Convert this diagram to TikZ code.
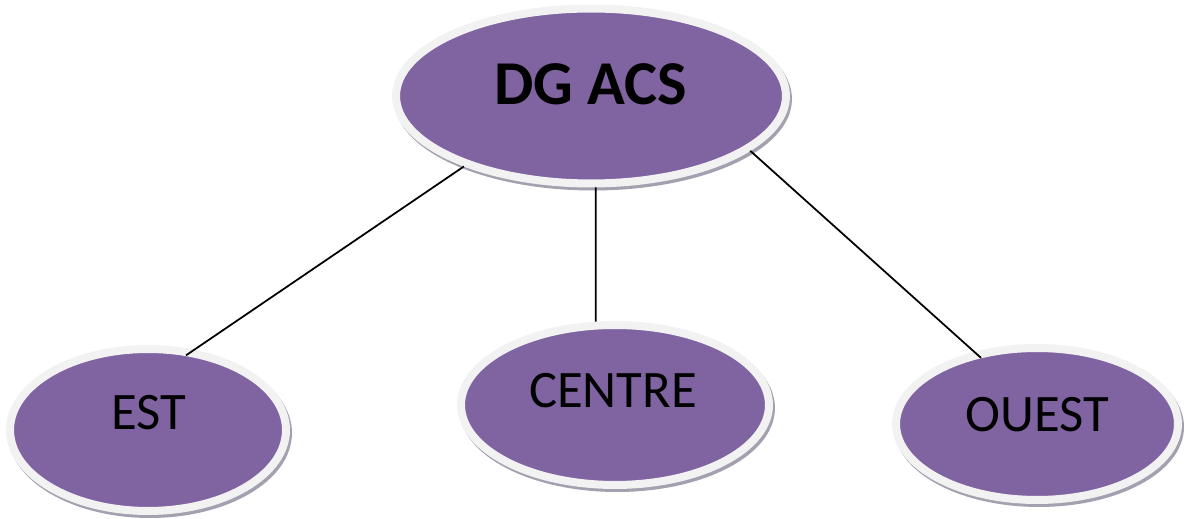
\documentclass[tikz,border=0pt]{standalone}
\usepackage{fontspec}
\setmainfont{Carlito}
\usetikzlibrary{shapes.geometric}
\definecolor{acspurple}{RGB}{128,100,162}
\definecolor{ringgray}{RGB}{242,242,242}
\definecolor{shadowgray}{RGB}{165,160,175}

\begin{document}
\begin{tikzpicture}[
        x=0.02cm, y=-0.02cm,
        % Purple ellipses with a pale rim and a soft grey shadow.
        bubble/.style={ellipse, draw=ringgray, fill=acspurple,
            line width=0.16cm, inner sep=0pt,
            preaction={draw=shadowgray, fill=shadowgray, line width=0.16cm,
                transform canvas={xshift=0.04cm, yshift=-0.06cm}}},
        tag/.style={text=black, font=\fontsize{30}{35}\selectfont},
        title/.style={text=black, font=\bfseries\fontsize{35.5}{42}\selectfont},
        link/.style={black, line width=1pt}
    ]
        \useasboundingbox (0,0) rectangle (1187,519);

        % Head office and the three regions
        \node[bubble, minimum width=7.8cm, minimum height=3.5cm,
            label={[title, yshift=0.24cm]center:DG ACS}] (dg) at (591,96) {};
        \node[bubble, minimum width=5.52cm, minimum height=3.24cm,
            label={[tag, xshift=0.02cm, yshift=0.34cm]center:EST}] (est) at (148,430) {};
        \node[bubble, minimum width=6.16cm, minimum height=3.2cm,
            label={[tag, xshift=-0.04cm, yshift=0.28cm]center:CENTRE}] (centre) at (615,405) {};
        \node[bubble, minimum width=5.64cm, minimum height=3.04cm,
            label={[tag, yshift=0.18cm]center:OUEST}] (ouest) at (1037,424) {};

        % Connections
        \draw[link, shorten >=-0.2cm] (dg.209.5) -- (est.60);
        \draw[link] (dg.273) -- (centre.103);
        \draw[link, shorten >=-0.18cm] (dg.341) -- (ouest.131);
    \end{tikzpicture}
\end{document}
